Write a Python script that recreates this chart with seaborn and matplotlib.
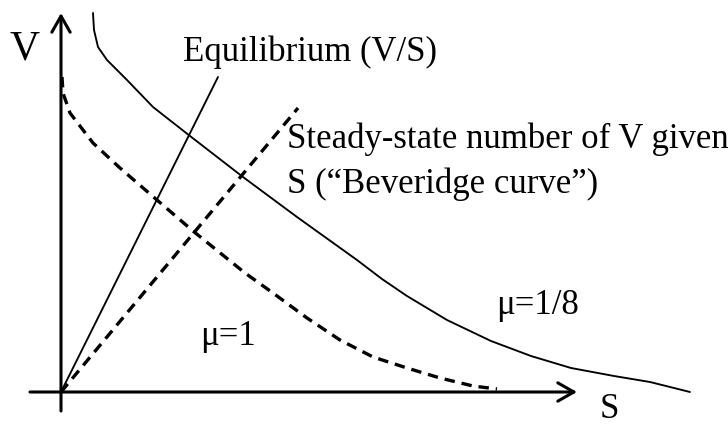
import numpy as np
import pandas as pd
import matplotlib
matplotlib.use("Agg")
import matplotlib.pyplot as plt
import seaborn as sns

# curve values (S across, V up)
s_mu8 = [0.64, 0.66, 0.74, 0.92, 1.32, 1.84, 2.58, 3.64, 4.72, 5.92, 6.42, 6.92, 7.72, 8.60, 9.40, 10.20, 11.06, 11.78, 12.58]
v_mu8 = [7.58, 7.24, 6.90, 6.64, 6.24, 5.70, 5.12, 4.30, 3.50, 2.64, 2.26, 1.92, 1.44, 1.02, 0.72, 0.48, 0.32, 0.20, 0.00]

s_mu1 = [0.02, 0.04, 0.18, 0.64, 1.18, 1.92, 2.64, 3.68, 4.24, 4.92, 5.58, 6.24, 6.92, 7.58, 8.24, 8.72]
v_mu1 = [6.30, 5.98, 5.58, 4.98, 4.48, 3.84, 3.22, 2.38, 1.98, 1.48, 1.04, 0.70, 0.48, 0.28, 0.12, 0.06]

s_equil = [0.0, 3.14]
v_equil = [0.0, 6.30]

s_bev = [0.0, 4.74]
v_bev = [0.0, 5.68]

# axis arrows: (tail, tip)
v_axis = [(0.0, -0.38), (0.0, 7.58)]
s_axis = [(-0.62, 0.0), (10.32, 0.0)]

labels = ["V", "Equilibrium (V/S)", "Steady-state number of V given",
          "S (\u201cBeveridge curve\u201d)", "\u03bc=1/8", "\u03bc=1", "S"]
label_pos = [(-1.02, 6.64), (2.44, 6.62), (4.52, 4.88), (4.52, 3.98),
             (8.70, 1.56), (2.78, 0.94), (10.78, -0.52)]
label_size = [30, 25, 25, 25, 25, 25, 25]

sns.set_theme(style="white")
plt.rcParams["font.family"] = ["Liberation Serif", "DejaVu Serif"]
plt.rcParams["lines.scale_dashes"] = False

fig = plt.figure(figsize=(7.28, 4.26), dpi=100)
ax = fig.add_axes([0, 0, 1, 1])

df8 = pd.DataFrame({"S": s_mu8, "V": v_mu8})
df1 = pd.DataFrame({"S": s_mu1, "V": v_mu1})
dfe = pd.DataFrame({"S": s_equil, "V": v_equil})
dfb = pd.DataFrame({"S": s_bev, "V": v_bev})

solid = dict(sort=False, estimator=None, color="black", lw=1.35,
             solid_joinstyle="round", ax=ax)
dashed = dict(sort=False, estimator=None, color="black", lw=2.4,
              linestyle=(0, (7.5, 5)), dash_joinstyle="round", ax=ax)

sns.lineplot(data=df8, x="S", y="V", **solid)
sns.lineplot(data=dfe, x="S", y="V", **solid)
sns.lineplot(data=df1, x="S", y="V", **dashed)
sns.lineplot(data=dfb, x="S", y="V", **dashed)

for tail, tip in [v_axis, s_axis]:
    ax.annotate("", xy=tip, xytext=tail,
                arrowprops=dict(arrowstyle="->,head_length=0.58,head_width=0.33",
                                lw=2.2, color="black", mutation_scale=20,
                                shrinkA=0, shrinkB=0))

for txt, (x, y), fs in zip(labels, label_pos, label_size):
    ax.text(x, y, txt, fontsize=fs, ha="left", va="baseline", color="black")

ax.set_xlim(-1.22, 13.34)
ax.set_ylim(-0.68, 7.84)
ax.set_axis_off()

fig.savefig("out.png", dpi=100)
